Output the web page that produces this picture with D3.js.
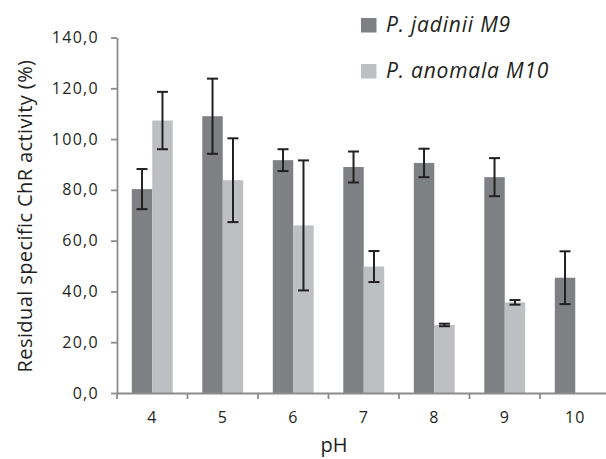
<!DOCTYPE html>
<html><head><meta charset="utf-8">
<script src="https://cdn.jsdelivr.net/npm/d3@7"></script>
<style>
html,body{margin:0;padding:0;background:#fff;}
svg{display:block;overflow:hidden;}
text{font-family:"Open Sans",sans-serif;fill:#231f20;}
</style></head>
<body>
<svg id="chart" width="606" height="459"></svg>
<script>
const categories = ["4","5","6","7","8","9","10"];
const seriesNames = ["P. jadinii M9","P. anomala M10"];
const jadiniiValues = [80.3, 109.0, 91.7, 89.0, 90.6, 85.0, 45.4];
const jadiniiErrors = [7.9, 14.8, 4.3, 6.1, 5.6, 7.5, 10.4];
const anomalaValues = [107.3, 83.8, 66.0, 49.8, 26.8, 35.7, null];
const anomalaErrors = [11.3, 16.5, 25.6, 6.1, 0.5, 0.9, null];
const yTicks = [0,20,40,60,80,100,120,140];
const colors = ["#7f8084","#bebfc3"];

const svg = d3.select("#chart");
const margin = {left:117, top:37.5};
const plotH = 355.5, plotW = 493.5;
const g = svg.append("g").attr("transform",`translate(${margin.left},${margin.top})`);

const y = d3.scaleLinear().domain([0,140]).range([plotH,0]);
const x0 = d3.scaleBand().domain(categories).range([0,plotW]).padding(0);
const x1 = d3.scaleBand().domain([0,1]).range([x0.bandwidth()*0.21, x0.bandwidth()*0.79]).padding(0);

const data = [];
categories.forEach((c,i)=>{
  [[jadiniiValues,jadiniiErrors],[anomalaValues,anomalaErrors]].forEach((s,k)=>{
    if(s[0][i]!=null) data.push({c, k, v:s[0][i], e:s[1][i]});
  });
});

// bars
g.selectAll("rect.bar").data(data).join("rect").attr("class","bar")
  .attr("x",d=>x0(d.c)+x1(d.k)).attr("width",x1.bandwidth())
  .attr("y",d=>y(d.v)).attr("height",d=>plotH-y(d.v))
  .attr("fill",d=>colors[d.k]);

// error bars
const eb = g.selectAll("g.err").data(data).join("g").attr("class","err")
  .attr("stroke","#231f20").attr("stroke-width",2);
const cx = d=>x0(d.c)+x1(d.k)+x1.bandwidth()/2;
eb.append("line").attr("x1",cx).attr("x2",cx).attr("y1",d=>y(d.v+d.e)).attr("y2",d=>y(d.v-d.e));
eb.append("line").attr("x1",d=>cx(d)-5.5).attr("x2",d=>cx(d)+5.5).attr("y1",d=>y(d.v+d.e)).attr("y2",d=>y(d.v+d.e));
eb.append("line").attr("x1",d=>cx(d)-5.5).attr("x2",d=>cx(d)+5.5).attr("y1",d=>y(d.v-d.e)).attr("y2",d=>y(d.v-d.e));

// y axis
const fmt = d=>d.toFixed(1).replace(".",",");
const yAx = g.append("g").call(d3.axisLeft(y).tickValues(yTicks).tickFormat(fmt).tickSize(6).tickSizeOuter(0).tickPadding(12));
yAx.selectAll("path,line").attr("stroke","#8c8c8c").attr("stroke-width",1.8);
yAx.selectAll("text").style("font-size","16px").style("letter-spacing","1.3px").attr("fill","#231f20");

// x axis
const xAx = g.append("g").attr("transform",`translate(0,${plotH})`)
  .call(d3.axisBottom(x0).tickSize(0).tickSizeOuter(0).tickPadding(19));
xAx.selectAll("path").attr("stroke","#8c8c8c").attr("stroke-width",1.8);
xAx.selectAll("text").style("font-size","16px").style("letter-spacing","1px").attr("fill","#231f20");
xAx.selectAll("line.bound").data(categories).join("line").attr("class","bound")
  .attr("x1",d=>x0(d)).attr("x2",d=>x0(d)).attr("y1",0).attr("y2",6)
  .attr("stroke","#8c8c8c").attr("stroke-width",1.8);

// axis titles
svg.append("text").attr("transform","translate(32,216) rotate(-90)")
  .attr("text-anchor","middle").style("font-size","20px").style("letter-spacing","0.4px").text("Residual specific ChR activity (%)");
svg.append("text").attr("x",334).attr("y",452).attr("text-anchor","middle")
  .style("font-size","20px").text("pH");

// legend
const lg = svg.append("g");
seriesNames.forEach((n,i)=>{
  const yy = 18 + i*46;
  lg.append("rect").attr("x",361).attr("y",yy).attr("width",15.5).attr("height",14.5).attr("fill",colors[i]);
  lg.append("text").attr("x",386).attr("y",yy+14).style("font-size","21px").style("font-style","italic")
    .style("letter-spacing","0.8px").text(n);
});
</script>
</body></html>
